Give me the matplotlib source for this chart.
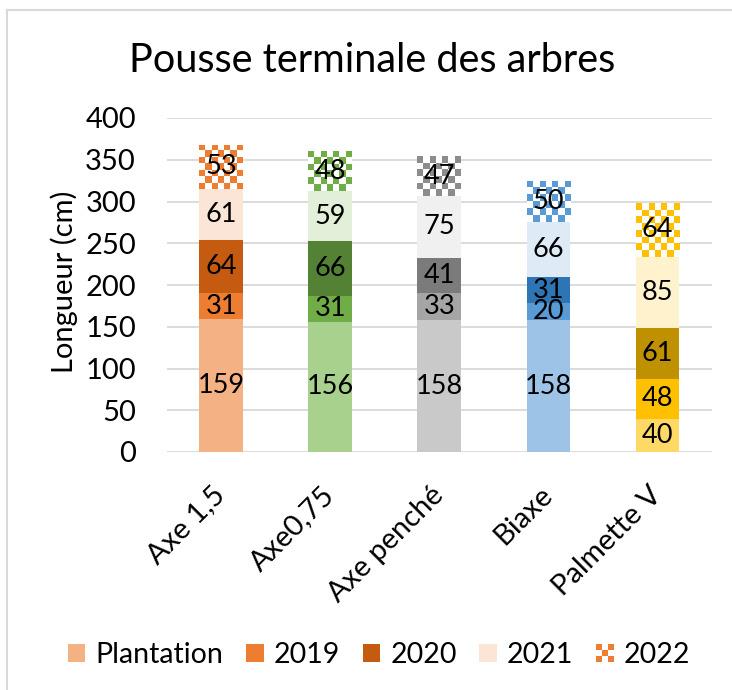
"""
Pousse terminale des arbres - histogramme empilé
"""

import matplotlib
matplotlib.use("Agg")
import matplotlib.pyplot as plt
import numpy as np
from matplotlib.colors import ListedColormap
from matplotlib.lines import Line2D
from matplotlib.patches import Rectangle
from matplotlib.legend_handler import HandlerBase

# Données
categories = ["Axe 1,5", "Axe0,75", "Axe penché", "Biaxe", "Palmette V"]
series = ["Plantation", "2019", "2020", "2021", "2022"]
plantation = [159, 156, 158, 158, 40]
pousse_2019 = [31, 31, 33, 20, 48]
pousse_2020 = [64, 66, 41, 31, 61]
pousse_2021 = [61, 59, 75, 66, 85]
pousse_2022 = [53, 48, 47, 50, 64]
values = [plantation, pousse_2019, pousse_2020, pousse_2021, pousse_2022]

# Couleurs par catégorie (Plantation, 2019, 2020, 2021, motif 2022)
colors = [
    ["#F4B183", "#ED7D31", "#C55A11", "#FBE5D6", "#ED7D31"],
    ["#A9D18E", "#70AD47", "#548235", "#E2F0D9", "#70AD47"],
    ["#C9C9C9", "#A5A5A5", "#7B7B7B", "#F0F0F0", "#8C8C8C"],
    ["#9DC3E6", "#5B9BD5", "#2E75B6", "#DEEBF7", "#5B9BD5"],
    ["#FFD966", "#FFC000", "#BF9000", "#FFF2CC", "#FFC000"],
]

font = 21
plt.rcParams['font.family'] = ['Lato', 'DejaVu Sans']

fig = plt.figure(figsize=(7.32, 6.90), dpi=100)
ax = fig.add_axes([166.5 / 732, 1 - 452 / 690, 545.5 / 732, 334 / 690])

x = np.arange(len(categories))
width = 0.4
cell_px = 6.5
px_per_unit = 334 / 400

bottom = np.zeros(len(categories))
for s, vals in enumerate(values):
    for i, v in enumerate(vals):
        c = colors[i][s]
        if s == len(values) - 1:
            # motif damier pour 2022
            bar = ax.bar(x[i], v, width, bottom=bottom[i], color="white",
                         linewidth=0, zorder=2)[0]
            ncol = 7
            nrow = max(1, int(round(v * px_per_unit / cell_px)))
            checker = (np.add.outer(np.arange(nrow), np.arange(ncol)) % 2)
            im = ax.imshow(checker, extent=[x[i] - width / 2, x[i] + width / 2,
                                            bottom[i], bottom[i] + v],
                           cmap=ListedColormap([c, "white"]),
                           interpolation="nearest", aspect="auto", zorder=2.1)
            im.set_clip_path(bar)
        else:
            ax.bar(x[i], v, width, bottom=bottom[i], color=c, linewidth=0,
                   zorder=2)
        ax.text(x[i], bottom[i] + v / 2, str(v), ha="center", va="center",
                fontsize=font - 1.5, color="black", zorder=3)
    bottom += np.array(vals)

ax.set_xlim(-0.5, len(categories) - 0.5)
ax.set_ylim(0, 400)
ax.set_yticks(np.arange(0, 401, 50))
ax.yaxis.grid(True, color="#D9D9D9", linewidth=1.3, zorder=0)
ax.set_axisbelow(True)
for sp in ax.spines.values():
    sp.set_visible(False)
ax.tick_params(axis="y", length=0, pad=22, labelsize=font)
ax.tick_params(axis="x", length=0, pad=28, labelsize=font)
ax.set_xticks(x)
ax.set_xticklabels(categories, rotation=45, ha="right", va="center",
                   rotation_mode="anchor")

ax.set_ylabel("Longueur (cm)", fontsize=font)
ax.yaxis.set_label_coords(-0.162, 0.51)

fig.text(372 / 732, 1 - 60 / 690, "Pousse terminale des arbres",
         ha="center", va="center", fontsize=28.5)

# Cadre du graphique
fig.add_artist(Line2D([7 / 732, 7 / 732], [0, 1 - 10 / 690],
                      color="#D9D9D9", linewidth=1.5))
fig.add_artist(Line2D([7 / 732, 1], [1 - 10 / 690, 1 - 10 / 690],
                      color="#D9D9D9", linewidth=1.5))


class CheckerHandler(HandlerBase):
    def __init__(self, color):
        super().__init__()
        self.color = color

    def create_artists(self, legend, orig_handle, xdescent, ydescent,
                       width, height, fontsize, trans):
        arts = []
        side = min(width, height)
        x0 = -xdescent + (width - side) / 2
        y0 = -ydescent + (height - side) / 2
        n = 3
        d = side / n
        for r in range(n):
            for k in range(n):
                fc = self.color if (r + k) % 2 == 0 else "white"
                arts.append(Rectangle((x0 + k * d, y0 + r * d), d, d,
                                      facecolor=fc, linewidth=0,
                                      transform=trans))
        return arts


handles = [Rectangle((0, 0), 1, 1, facecolor=colors[0][s], linewidth=0)
           for s in range(len(series))]
leg = fig.legend(handles, series, loc="center", ncol=5,
                 bbox_to_anchor=(379 / 732, 1 - 655 / 690), frameon=False,
                 fontsize=20.5, handlelength=0.62, handleheight=0.62,
                 handletextpad=0.35, columnspacing=0.8,
                 handler_map={handles[-1]: CheckerHandler(colors[0][4])})

plt.savefig("out.png", dpi=100)
